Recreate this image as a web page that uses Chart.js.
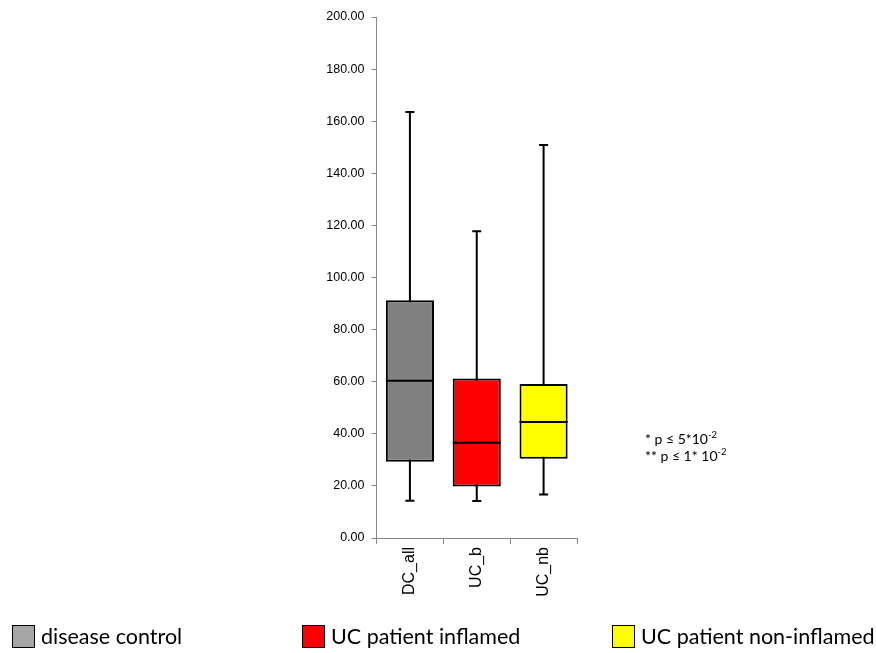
<!DOCTYPE html>
<html lang="en">
<head>
  <meta charset="UTF-8">
  <title>Box plot - DC vs UC</title>
  <script src="https://cdn.jsdelivr.net/npm/chart.js"></script>
  <style>
    body {
      margin: 0;
      background: #fff;
    }
    #wrap {
      position: relative;
      width: 876px;
      height: 653px;
    }
    #chart {
      position: absolute;
      left: 0;
      top: 0;
    }
    .note {
      position: absolute;
      left: 645px;
      top: 430px;
      font-family: Lato, "Open Sans", sans-serif;
      font-size: 14px;
      line-height: 17px;
      color: #000;
    }
    .note sup {
      font-size: 9.5px;
      line-height: 0;
    }
    .legend-item {
      position: absolute;
      top: 625px;
      height: 23px;
      font-family: Lato, "Open Sans", sans-serif;
      font-size: 21.5px;
      line-height: 23px;
      color: #000;
      white-space: nowrap;
    }
    .legend-item span {
      display: inline-block;
      width: 21px;
      height: 21px;
      border: 1px solid #000;
      vertical-align: top;
      margin-right: 6px;
    }
  </style>
</head>
<body>
  <div id="wrap">
    <canvas id="chart" width="876" height="653"></canvas>

    <div class="note">
      * p &le; 5*10<sup>-2</sup><br>
      ** p &le; 1* 10<sup>-2</sup>
    </div>

    <!-- Legend -->
    <div class="legend-item" style="left: 12px;"><span style="background: #a6a6a6;"></span>disease control</div>
    <div class="legend-item" style="left: 302px;"><span style="background: #ff0000;"></span>UC patient inflamed</div>
    <div class="legend-item" style="left: 612px;"><span style="background: #ffff00;"></span>UC patient non-inflamed</div>
  </div>

  <script>
    // values
    const groups = ['DC_all', 'UC_b', 'UC_nb'];
    const minValues = [14.3, 14.2, 16.7];
    const q1Values = [29.3, 19.8, 30.4];
    const medianValues = [60.4, 36.6, 44.5];
    const q3Values = [91.3, 61.2, 59.1];
    const maxValues = [163.5, 117.8, 150.9];
    const boxColors = ['#808080', '#ff0000', '#ffff00'];
    const yTicks = [0, 20, 40, 60, 80, 100, 120, 140, 160, 180, 200];

    const axisColor = '#868686';

    // whiskers go behind the boxes, medians on top
    const boxPlotLines = {
      id: 'boxPlotLines',
      beforeDatasetsDraw(chart) {
        const ctx = chart.ctx;
        const y = chart.scales.y;
        const bars = chart.getDatasetMeta(0).data;
        ctx.save();
        ctx.strokeStyle = '#000';
        ctx.lineWidth = 2;
        bars.forEach(function (bar, i) {
          const top = y.getPixelForValue(maxValues[i]);
          const bottom = y.getPixelForValue(minValues[i]);
          ctx.beginPath();
          ctx.moveTo(bar.x, top);
          ctx.lineTo(bar.x, bottom);
          ctx.moveTo(bar.x - 4.5, top);
          ctx.lineTo(bar.x + 4.5, top);
          ctx.moveTo(bar.x - 4.5, bottom);
          ctx.lineTo(bar.x + 4.5, bottom);
          ctx.stroke();
        });
        ctx.restore();
      },
      afterDatasetsDraw(chart) {
        const ctx = chart.ctx;
        const y = chart.scales.y;
        const bars = chart.getDatasetMeta(0).data;
        ctx.save();
        ctx.strokeStyle = '#000';
        ctx.lineWidth = 2;
        bars.forEach(function (bar, i) {
          const my = y.getPixelForValue(medianValues[i]);
          ctx.beginPath();
          ctx.moveTo(bar.x - bar.width / 2, my);
          ctx.lineTo(bar.x + bar.width / 2, my);
          ctx.stroke();
        });
        ctx.restore();
      }
    };

    const chart = new Chart(document.getElementById('chart'), {
      type: 'bar',
      data: {
        labels: groups,
        datasets: [{
          data: groups.map(function (g, i) { return [q1Values[i], q3Values[i]]; }),
          backgroundColor: boxColors,
          borderColor: '#000',
          borderWidth: 2,
          borderSkipped: false,
          categoryPercentage: 1,
          barPercentage: 0.72
        }]
      },
      options: {
        responsive: false,
        animation: false,
        layout: {
          padding: { left: 0, right: 299, top: 17, bottom: 0 }
        },
        plugins: {
          legend: { display: false },
          tooltip: { enabled: false }
        },
        scales: {
          x: {
            afterFit(scale) { scale.height = 115; },
            grid: {
              offset: true,
              drawOnChartArea: false,
              tickLength: 6,
              color: axisColor
            },
            border: { color: axisColor, width: 1 },
            ticks: {
              maxRotation: 90,
              minRotation: 90,
              color: '#000',
              font: { family: 'Liberation Sans', size: 16 }
            }
          },
          y: {
            min: 0,
            max: 200,
            afterFit(scale) { scale.width = 376.5; },
            afterBuildTicks(scale) {
              scale.ticks = yTicks.map(function (v) { return { value: v }; });
            },
            grid: {
              drawOnChartArea: false,
              tickLength: 5,
              color: axisColor
            },
            border: { color: axisColor, width: 1 },
            ticks: {
              padding: 7,
              color: '#000',
              font: { family: 'Liberation Sans', size: 12.5 },
              callback: function (value) { return value.toFixed(2); }
            }
          }
        }
      },
      plugins: [boxPlotLines]
    });
  </script>
</body>
</html>
